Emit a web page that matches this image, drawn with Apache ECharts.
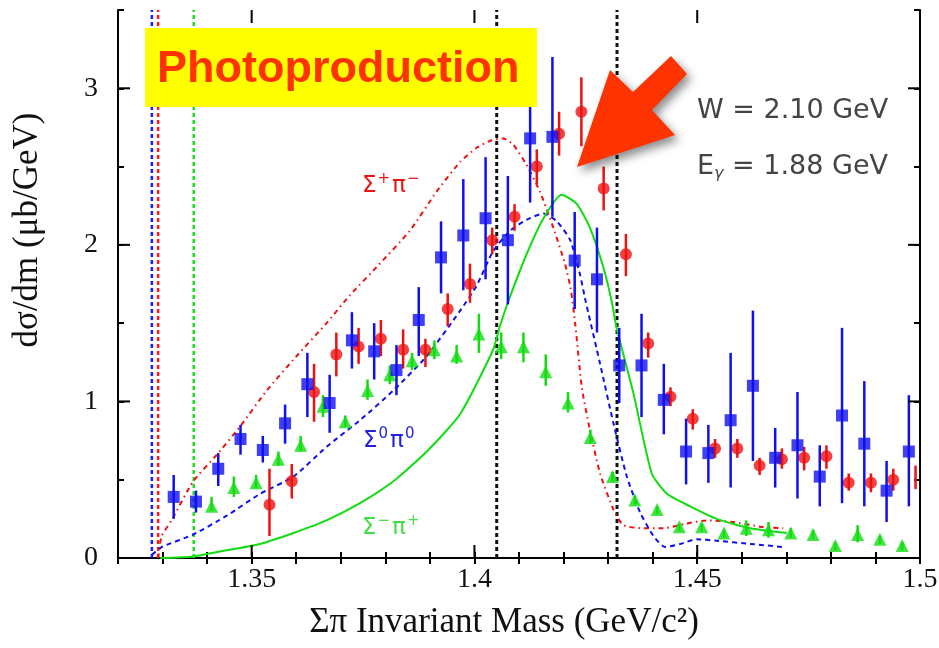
<!DOCTYPE html>
<html>
<head>
<meta charset="utf-8">
<script src="https://cdn.jsdelivr.net/npm/echarts@6/dist/echarts.min.js"></script>
<style>
  html, body { margin: 0; padding: 0; background: #fff; }
  #chart { width: 939px; height: 648px; }
</style>
</head>
<body>
<div id="chart"></div>
<script>
// axis ticks
var massTicks = [1.35, 1.4, 1.45, 1.5];
var valTicks = [0, 1, 2, 3];

// Sigma0 pi0 (blue squares)
var blueM = [1.3325,1.3375,1.3425,1.3475,1.3525,1.3575,1.3625,1.3675,1.3725,1.3775,1.3825,1.3875,1.3925,1.3975,1.4025,1.4075,1.4125,1.4175,1.4225,1.4275,1.4325,1.4375,1.4425,1.4475,1.4525,1.4575,1.4625,1.4675,1.4725,1.4775,1.4825,1.4875,1.4925,1.4975];
var blueV = [0.39,0.36,0.57,0.76,0.69,0.86,1.11,0.99,1.39,1.32,1.20,1.52,1.92,2.06,2.17,2.03,2.68,2.69,1.90,1.78,1.23,1.23,1.01,0.68,0.67,0.88,1.10,0.64,0.72,0.52,0.91,0.73,0.43,0.68];
var blueLo = [0.25,0.29,0.46,0.66,0.61,0.73,0.90,0.80,1.21,1.14,1.04,1.29,1.69,1.71,1.78,1.62,2.27,2.18,1.59,1.44,0.99,0.90,0.79,0.47,0.48,0.45,0.62,0.45,0.38,0.33,0.35,0.33,0.23,0.33];
var blueHi = [0.53,0.43,0.67,0.85,0.78,0.98,1.31,1.17,1.57,1.50,1.36,1.73,2.15,2.42,2.56,2.44,3.02,3.20,2.21,2.11,1.47,1.56,1.24,0.89,0.85,1.31,1.58,0.83,1.06,0.72,1.47,1.13,0.62,1.04];

// Sigma+ pi- (red circles); the last one only shows its bar at the frame edge
var redM = [1.354,1.359,1.364,1.369,1.374,1.379,1.384,1.389,1.394,1.399,1.404,1.409,1.414,1.419,1.424,1.429,1.434,1.439,1.444,1.449,1.454,1.459,1.464,1.469,1.474,1.479,1.484,1.489,1.494,1.499];
var redV = [0.34,0.49,1.06,1.30,1.35,1.40,1.33,1.33,1.59,1.75,2.03,2.18,2.50,2.71,2.85,2.36,1.94,1.37,1.03,0.89,0.70,0.70,0.59,0.63,0.64,0.65,0.48,0.48,0.50,0.51];
var redLo = [0.14,0.38,0.87,1.16,1.24,1.29,1.21,1.22,1.48,1.63,1.94,2.09,2.39,2.57,2.63,2.22,1.80,1.28,0.97,0.82,0.64,0.64,0.53,0.57,0.56,0.57,0.43,0.42,0.43,0.44];
var redHi = [0.57,0.60,1.24,1.44,1.47,1.52,1.46,1.40,1.69,1.88,2.11,2.26,2.61,2.85,3.07,2.50,2.07,1.44,1.09,0.95,0.76,0.76,0.64,0.70,0.71,0.72,0.54,0.54,0.57,0.59];

// Sigma- pi+ (green triangles)
var greenM = [1.341,1.346,1.351,1.356,1.361,1.366,1.371,1.376,1.381,1.386,1.391,1.396,1.401,1.406,1.411,1.416,1.421,1.426,1.431,1.436,1.441,1.446,1.451,1.456,1.461,1.466,1.471,1.476,1.481,1.486,1.491,1.496];
var greenV = [0.33,0.45,0.48,0.63,0.72,0.97,0.87,1.07,1.17,1.26,1.33,1.29,1.43,1.35,1.35,1.19,0.99,0.77,0.52,0.37,0.31,0.20,0.20,0.16,0.19,0.18,0.16,0.15,0.08,0.15,0.12,0.08];
var greenLo = [0.30,0.39,0.45,0.59,0.68,0.90,0.84,1.01,1.11,1.20,1.27,1.24,1.31,1.27,1.25,1.10,0.93,0.73,0.49,0.34,0.28,0.17,0.17,0.13,0.14,0.13,0.13,0.12,0.05,0.10,0.09,0.05];
var greenHi = [0.39,0.52,0.53,0.68,0.78,1.04,0.91,1.14,1.23,1.31,1.39,1.36,1.56,1.44,1.44,1.30,1.06,0.82,0.55,0.40,0.33,0.22,0.22,0.18,0.24,0.23,0.19,0.18,0.10,0.21,0.14,0.10];

// model curves
var redCurve = [[1.329,0],[1.3298,0.14],[1.332,0.24],[1.3369,0.49],[1.3422,0.66],[1.3474,0.84],[1.3534,1.07],[1.3601,1.29],[1.3668,1.50],[1.3721,1.68],[1.3781,1.86],[1.3855,2.09],[1.3915,2.34],[1.3968,2.53],[1.4005,2.62],[1.404,2.67],[1.4065,2.68],[1.4087,2.64],[1.4117,2.51],[1.4147,2.34],[1.4177,2.11],[1.4203,1.88],[1.4216,1.72],[1.4226,1.50],[1.4241,1.09],[1.4259,0.82],[1.4282,0.54],[1.4312,0.31],[1.4334,0.21],[1.4379,0.19],[1.4424,0.19],[1.4476,0.22],[1.4521,0.24],[1.4581,0.23],[1.4641,0.20],[1.4693,0.19]];
var blueCurve = [[1.3276,0.02],[1.3298,0.07],[1.3369,0.15],[1.3444,0.27],[1.3519,0.41],[1.3594,0.52],[1.3668,0.71],[1.3743,0.88],[1.3818,1.07],[1.3893,1.29],[1.3968,1.58],[1.4005,1.74],[1.4042,1.96],[1.408,2.09],[1.4117,2.16],[1.4155,2.20],[1.4185,2.15],[1.4215,2.03],[1.4237,1.81],[1.4248,1.66],[1.4282,1.24],[1.4312,0.86],[1.4342,0.52],[1.4372,0.29],[1.4402,0.14],[1.4428,0.07],[1.4462,0.09],[1.4499,0.12],[1.4544,0.11],[1.4619,0.09],[1.4693,0.07]];
var greenCurve = [[1.3295,0],[1.337,0.01],[1.3444,0.05],[1.3519,0.09],[1.3594,0.16],[1.3668,0.24],[1.3743,0.35],[1.3818,0.49],[1.3893,0.68],[1.3968,0.92],[1.4042,1.33],[1.4057,1.48],[1.408,1.67],[1.4117,1.94],[1.4155,2.17],[1.4196,2.32],[1.423,2.26],[1.4259,2.11],[1.4289,1.86],[1.4308,1.64],[1.4319,1.47],[1.4357,1.05],[1.4398,0.54],[1.4432,0.41],[1.4484,0.33],[1.4544,0.25],[1.4619,0.19],[1.4701,0.16]];

// thresholds (Sigma0 pi0, Sigma+ pi-, Sigma- pi+, Lambda(1405), K-p)
var thresholdM = [1.3276, 1.329, 1.337, 1.405, 1.432];
var thresholdColor = ['#1a1aff', '#ff1a1a', '#22dd22', '#111111', '#111111'];

var BLUE = '#1010ee', RED = '#ee1111', GREEN = '#11dd11';
var X0 = 1.32, X1 = 1.5, Y0 = 0, Y1 = 3.5;

function zip(a, b, c) {
    return a.map(function (v, i) { return c ? [v, b[i], c[i]] : [v, b[i]]; });
}

function errBars(color) {
    return function (params, api) {
        var p1 = api.coord([api.value(0), api.value(1)]);
        var p2 = api.coord([api.value(0), api.value(2)]);
        return {
            type: 'line',
            shape: { x1: p1[0], y1: p1[1], x2: p2[0], y2: p2[1] },
            style: { stroke: color, lineWidth: 2.5 }
        };
    };
}

// vertical dashed threshold lines, full height of the frame
function vLines(params, api) {
    var i = params.dataIndex;
    var p1 = api.coord([api.value(0), Y0]);
    var p2 = api.coord([api.value(0), Y1]);
    return {
        type: 'line',
        shape: { x1: p1[0], y1: p1[1], x2: p2[0], y2: p2[1] },
        style: { stroke: thresholdColor[i], lineWidth: i > 2 ? 3 : 2.5, lineDash: [4, 3] }
    };
}

function isIn(v, list) {
    return list.some(function (t) { return Math.abs(t - v) < 1e-6; });
}

// frame axes: short inward ticks at every step, labels only on the major values
function frameAxis(pos, min, max, step, majors, withLabel, margin) {
    return {
        type: 'value', position: pos, min: min, max: max, interval: step,
        axisLine: { show: true, lineStyle: { color: '#000', width: 2 } },
        axisTick: { show: true, inside: true, length: 6, lineStyle: { color: '#000', width: 2 } },
        axisLabel: withLabel ? {
            show: true, margin: margin, color: '#111',
            fontFamily: 'Liberation Serif', fontSize: 28,
            showMinLabel: true, showMaxLabel: true,
            formatter: function (v) { return isIn(v, majors) ? String(+v.toFixed(2)) : ''; }
        } : { show: false },
        splitLine: { show: false }
    };
}

function supLabel(parts, color) {
    return {
        text: '{a|' + parts[0] + '}{s|' + parts[1] + '}{a|' + parts[2] + '}{s|' + parts[3] + '}',
        align: 'left', verticalAlign: 'middle',
        rich: {
            a: { font: '23px "DejaVu Sans"', fill: color, lineHeight: 28 },
            s: { font: '15px "DejaVu Sans"', fill: color, lineHeight: 28, verticalAlign: 'top', padding: [0, 2, 0, 1] }
        }
    };
}

var decor = [
    { type: 'text', x: 28, y: 230, rotation: Math.PI / 2, z: 10,
      style: { text: 'dσ/dm (μb/GeV)', font: '35px "Liberation Serif"', fill: '#111', align: 'center', verticalAlign: 'middle' } },
    { type: 'text', x: 504, y: 623, z: 10,
      style: { text: 'Σπ Invariant Mass (GeV/c²)', font: '35px "Liberation Serif"', fill: '#111', align: 'center', verticalAlign: 'middle' } },
    { type: 'rect', shape: { x: 145, y: 28, width: 392, height: 79 }, style: { fill: '#ffff00' }, z: 20 },
    { type: 'text', x: 157, y: 70, z: 21,
      style: { text: 'Photoproduction', font: 'bold 45px "Liberation Sans"', fill: '#ff3300', align: 'left', verticalAlign: 'middle' } },
    { type: 'polygon', z: 20,
      shape: { points: [[577, 167], [610, 70], [633, 92], [671, 56], [687, 74], [652, 110], [675, 135]] },
      style: { fill: '#ff3300', shadowBlur: 10, shadowColor: 'rgba(0,0,0,0.45)', shadowOffsetX: 4, shadowOffsetY: 5 } },
    { type: 'text', x: 697, y: 111, z: 21,
      style: { text: 'W = 2.10 GeV', font: '27px "DejaVu Sans"', fill: '#444', align: 'left', verticalAlign: 'middle' } },
    { type: 'text', x: 697, y: 167, z: 21,
      style: { text: '{a|E}{b|γ}{a| = 1.88 GeV}', align: 'left', verticalAlign: 'middle',
               rich: { a: { font: '27px "DejaVu Sans"', fill: '#444', lineHeight: 30 },
                       b: { font: 'italic 16px "DejaVu Sans"', fill: '#444', lineHeight: 30, verticalAlign: 'bottom' } } } },
    { type: 'text', x: 362, y: 186, z: 21, style: supLabel(['Σ', '+', 'π', '−'], RED) },
    { type: 'text', x: 363, y: 441, z: 21, style: supLabel(['Σ', '0', 'π', '0'], '#2222dd') },
    { type: 'text', x: 362, y: 528, z: 21, style: supLabel(['Σ', '−', 'π', '+'], '#44dd44') }
];

var chart = echarts.init(document.getElementById('chart'));
chart.setOption({
    animation: false,
    backgroundColor: '#fff',
    grid: { left: 118, right: 19, top: 10, bottom: 90, outerBoundsMode: 'none' },
    xAxis: [
        frameAxis('bottom', X0, X1, 0.01, massTicks, true, 8),
        frameAxis('top', X0, X1, 0.01, massTicks, false, 0)
    ],
    yAxis: [
        frameAxis('left', Y0, Y1, 0.5, valTicks, true, 20),
        frameAxis('right', Y0, Y1, 0.5, valTicks, false, 0)
    ],
    series: [
        { type: 'custom', data: thresholdM.map(function (m) { return [m]; }), renderItem: vLines, silent: true, z: 1, encode: { x: 0 } },
        {
            type: 'line', data: redCurve, showSymbol: false, smooth: 0.2, z: 3,
            lineStyle: { color: RED, width: 2, type: [5, 4, 1.5, 4] }
        },
        {
            type: 'line', data: blueCurve, showSymbol: false, smooth: 0.2, z: 3,
            lineStyle: { color: BLUE, width: 2, type: [5, 4] }
        },
        {
            type: 'line', data: greenCurve, showSymbol: false, smooth: 0.2, z: 3,
            lineStyle: { color: GREEN, width: 2 }
        },
        { type: 'custom', data: zip(greenM, greenLo, greenHi), renderItem: errBars(GREEN), clip: true, z: 4, encode: { x: 0, y: [1, 2] } },
        { type: 'scatter', data: zip(greenM, greenV), symbol: 'triangle', symbolSize: 13, itemStyle: { color: GREEN }, z: 4 },
        { type: 'custom', data: zip(redM, redLo, redHi), renderItem: errBars(RED), clip: true, z: 5, encode: { x: 0, y: [1, 2] } },
        { type: 'scatter', data: zip(redM, redV).slice(0, 29), symbol: 'circle', symbolSize: 12, itemStyle: { color: RED }, z: 5 },
        { type: 'custom', data: zip(blueM, blueLo, blueHi), renderItem: errBars(BLUE), clip: true, z: 6, encode: { x: 0, y: [1, 2] } },
        { type: 'scatter', data: zip(blueM, blueV), symbol: 'rect', symbolSize: 12, itemStyle: { color: BLUE }, z: 6 }
    ]
});

// longer major ticks on all four sides, placed through the grid's own scales
function px(x, y) { return chart.convertToPixel({ gridIndex: 0 }, [x, y]); }
var ticks = [];
function bar(x, y, w, h) {
    ticks.push({ type: 'rect', z: 30, silent: true,
                 shape: { x: x, y: y, width: w, height: h },
                 style: { fill: '#000' } });
}
massTicks.forEach(function (v) {
    var a = px(v, Y0), b = px(v, Y1);
    bar(a[0] - 1, a[1] - 13, 2, 13);
    bar(b[0] - 1, b[1], 2, 13);
});
valTicks.forEach(function (v) {
    var a = px(X0, v), b = px(X1, v);
    bar(a[0], a[1] - 1, 12, 2);
    bar(b[0] - 12, b[1] - 1, 12, 2);
});

chart.setOption({ graphic: { elements: decor.concat(ticks) } });
</script>
</body>
</html>
